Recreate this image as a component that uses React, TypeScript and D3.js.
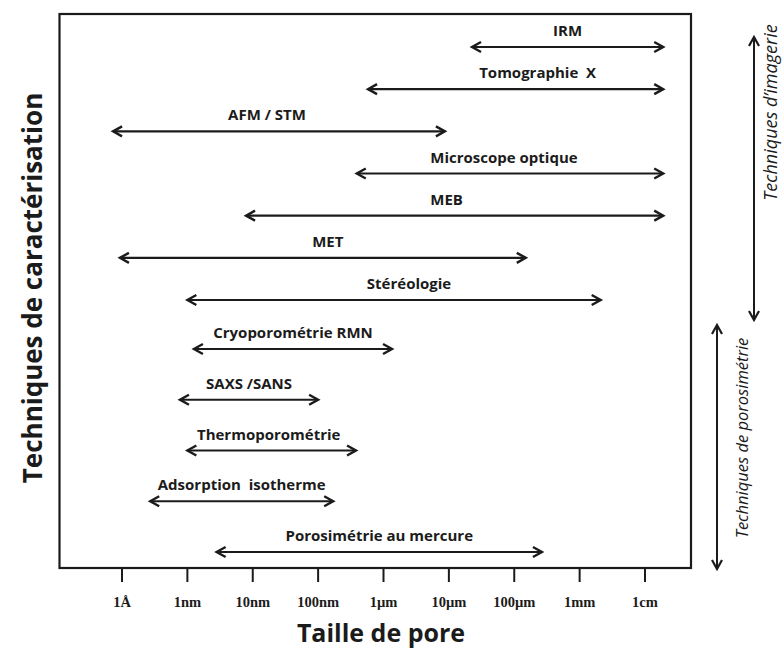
import React from "react";
import * as d3 from "d3";

// ---- data ----
const techniques = [
  "IRM",
  "Tomographie  X",
  "AFM / STM",
  "Microscope optique",
  "MEB",
  "MET",
  "Stéréologie",
  "Cryoporométrie RMN",
  "SAXS /SANS",
  "Thermoporométrie",
  "Adsorption  isotherme",
  "Porosimétrie au mercure",
];
const groups = ["img", "img", "img", "img", "img", "img", "img", "por", "por", "por", "por", "por"];
// size ranges in metres
const minSize = [2.26e-5, 5.8e-7, 7.3e-11, 3.9e-7, 7.9e-9, 9.3e-11, 1.0e-9, 1.26e-9, 7.7e-10, 1.0e-9, 2.7e-10, 2.8e-9];
const maxSize = [1.9e-2, 1.9e-2, 8.7e-6, 1.9e-2, 1.9e-2, 1.5e-4, 2.1e-3, 1.35e-6, 1.0e-7, 3.8e-7, 1.7e-7, 2.65e-4];
const tickValues = [1e-10, 1e-9, 1e-8, 1e-7, 1e-6, 1e-5, 1e-4, 1e-3, 1e-2];
const tickLabels = ["1Å", "1nm", "10nm", "100nm", "1µm", "10µm", "100µm", "1mm", "1cm"];
const groupLabels = ["Techniques d’imagerie", "Techniques de porosimétrie"];

// ---- layout ----
const W = 783;
const H = 649;
const frame = { x0: 59.5, x1: 691, y0: 14, y1: 568 };
const labelDx = [0, 22, -12, -6, -8, 5, 15, 0, 0, -3, 0, 0];
const SANS = "'Open Sans', 'DejaVu Sans', sans-serif";
const SERIF = "'Liberation Serif', 'Times New Roman', serif";
const INK = "#1b1b1b";

export default function App() {
  const x = d3.scaleLog().domain([1e-10, 1e-2]).range([122, 645]);
  const nImg = groups.filter((g) => g === "img").length;
  const y = d3
    .scaleLinear()
    .domain([0, nImg - 1, nImg, techniques.length - 1])
    .range([47, 300, 349, 552]);

  const head = (tx: number, ty: number, dir: number) => {
    const L = 9;
    const h = 5;
    return `M${tx - dir * L},${ty - h}L${tx},${ty}L${tx - dir * L},${ty + h}`;
  };
  const vhead = (tx: number, ty: number, dir: number) => {
    const L = 9;
    const h = 5;
    return `M${tx - h},${ty - dir * L}L${tx},${ty}L${tx + h},${ty - dir * L}`;
  };

  const imgTop = y(0) - 10;
  const imgBot = y(nImg - 1) + 20;
  const porTop = y(nImg) - 24;
  const porBot = y(techniques.length - 1) + 17;

  return (
    <svg width={W} height={H} style={{ display: "block", position: "absolute", left: 0, top: 0 }}>
      <rect x={0} y={0} width={W} height={H} fill="#fff" />
      <rect
        x={frame.x0}
        y={frame.y0}
        width={frame.x1 - frame.x0}
        height={frame.y1 - frame.y0}
        fill="none"
        stroke={INK}
        strokeWidth={2.2}
      />
      {tickValues.map((t, i) => (
        <g key={i}>
          <line x1={x(t)} x2={x(t)} y1={frame.y1} y2={frame.y1 + 14} stroke={INK} strokeWidth={2} />
          <text
            x={x(t)}
            y={607}
            textAnchor="middle"
            fontFamily={SERIF}
            fontWeight="bold"
            fontSize={14.5}
            fill={INK}
          >
            {tickLabels[i]}
          </text>
        </g>
      ))}
      {techniques.map((name, i) => {
        const x0 = x(minSize[i]);
        const x1 = x(maxSize[i]);
        const yy = y(i);
        return (
          <g key={name}>
            <line x1={x0} x2={x1} y1={yy} y2={yy} stroke={INK} strokeWidth={2.2} />
            <path d={head(x1, yy, 1)} fill="none" stroke={INK} strokeWidth={2.4} strokeLinejoin="miter" />
            <path d={head(x0, yy, -1)} fill="none" stroke={INK} strokeWidth={2.4} strokeLinejoin="miter" />
            <text
              x={(x0 + x1) / 2 + labelDx[i]}
              y={yy - 11}
              textAnchor="middle"
              fontFamily={SANS}
              fontWeight="bold"
              fontSize={15}
              fill={INK}
              style={{ whiteSpace: "pre" }}
            >
              {name}
            </text>
          </g>
        );
      })}
      {/* group brackets */}
      <line x1={754} x2={754} y1={imgTop} y2={imgBot} stroke={INK} strokeWidth={2} />
      <path d={vhead(754, imgTop, -1)} fill="none" stroke={INK} strokeWidth={2.2} />
      <path d={vhead(754, imgBot, 1)} fill="none" stroke={INK} strokeWidth={2.2} />
      <text
        transform={`translate(777,${(imgTop + imgBot) / 2 - 66}) rotate(-90)`}
        textAnchor="middle"
        fontFamily={SANS}
        fontStyle="italic"
        fontSize={18}
        fill={INK}
      >
        {groupLabels[0]}
      </text>
      <line x1={717} x2={717} y1={porTop} y2={porBot} stroke={INK} strokeWidth={2} />
      <path d={vhead(717, porTop, -1)} fill="none" stroke={INK} strokeWidth={2.2} />
      <path d={vhead(717, porBot, 1)} fill="none" stroke={INK} strokeWidth={2.2} />
      <text
        transform={`translate(748,${(porTop + porBot) / 2 - 9}) rotate(-90)`}
        textAnchor="middle"
        fontFamily={SANS}
        fontStyle="italic"
        fontSize={16.5}
        fill={INK}
      >
        {groupLabels[1]}
      </text>
      {/* axis titles */}
      <text
        transform={`translate(42,288) rotate(-90)`}
        textAnchor="middle"
        fontFamily={SANS}
        fontWeight="bold"
        fontSize={26}
        fill={INK}
      >
        Techniques de caractérisation
      </text>
      <text x={381} y={642} textAnchor="middle" fontFamily={SANS} fontWeight="bold" fontSize={25} fill={INK}>
        Taille de pore
      </text>
    </svg>
  );
}
